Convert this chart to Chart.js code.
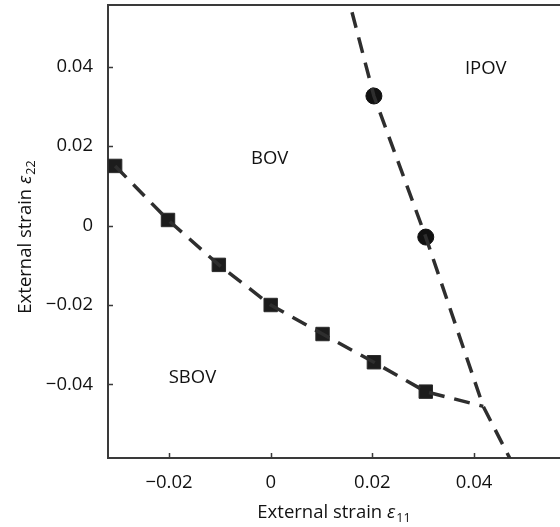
<!DOCTYPE html>
<html>
<head>
<meta charset="utf-8">
<script src="https://cdn.jsdelivr.net/npm/chart.js@4/dist/chart.umd.min.js"></script>
<style>
    html, body { margin: 0; padding: 0; background: #fff; }
    #wrap { width: 560px; height: 527px; position: relative; }
</style>
</head>
<body>
<div id="wrap"><canvas id="strainChart"></canvas></div>
<script>
// boundary between SBOV and BOV (square markers)
const sbovX = [-0.0306, -0.0202, -0.0102, 0.0, 0.0102, 0.0203, 0.0305];
const sbovY = [0.0150, 0.0014, -0.0099, -0.0200, -0.0273, -0.0344, -0.0418];

// boundary between BOV and IPOV (circle markers)
const ipovX = [0.0203, 0.0305];
const ipovY = [0.0326, -0.0029];

// where the two dashed boundaries meet, and where the steep one runs off the plot
const junction = { x: 0.0418, y: -0.0455 };
const steepTop = { x: 0.0147, y: 0.0600 };
const steepBottom = { x: 0.0484, y: -0.0620 };

const xTicks = [-0.02, 0, 0.02, 0.04];
const yTicks = [-0.04, -0.02, 0, 0.02, 0.04];

const regionNames = ['BOV', 'IPOV', 'SBOV'];
const regionAt = [[-0.0002, 0.0169], [0.0423, 0.0394], [-0.0154, -0.0383]];

const axisColor = '#3a3a3a';
const inkColor = '#121212';
const lineColor = '#2e2e2e';
const fontFamily = '"Open Sans", "Noto Sans", sans-serif';
const fontSize = 18.5;

function fmtTick(v) {
    if (Math.abs(v) < 1e-9) return '0';
    const s = Math.abs(v).toFixed(2);
    return v < 0 ? '\u2212' + s : s;
}

const toPoints = (xs, ys) => xs.map((x, i) => ({ x, y: ys[i] }));
const sbovPts = toPoints(sbovX, sbovY);
const ipovPts = toPoints(ipovX, ipovY);

// no extra room around the plot box: the axes sit right on the chart area edges
function fixBox(s, size) {
    if (s.isHorizontal()) s.height = size; else s.width = size;
    s.paddingTop = s.paddingBottom = s.paddingLeft = s.paddingRight = 0;
}

// draws "External strain ε" with an italic epsilon and a subscript
function drawStrainTitle(ctx, sub, cx, cy, angle) {
    const main = 'External strain ';
    const fMain = `${fontSize}px ${fontFamily}`;
    const fEps = `italic ${fontSize}px ${fontFamily}`;
    const fSub = `${fontSize * 0.68}px ${fontFamily}`;
    ctx.save();
    ctx.translate(cx, cy);
    ctx.rotate(angle);
    ctx.font = fMain; const w1 = ctx.measureText(main).width;
    ctx.font = fEps; const w2 = ctx.measureText('\u03b5').width;
    ctx.font = fSub; const w3 = ctx.measureText(sub).width;
    let x = -(w1 + w2 + 1 + w3) / 2;
    ctx.fillStyle = inkColor;
    ctx.textBaseline = 'alphabetic';
    ctx.textAlign = 'left';
    ctx.font = fMain; ctx.fillText(main, x, 6); x += w1;
    ctx.font = fEps; ctx.fillText('\u03b5', x, 6); x += w2 + 1;
    ctx.font = fSub; ctx.fillText(sub, x, 10);
    ctx.restore();
}

const decor = {
    id: 'decor',
    afterDraw(chart) {
        const { ctx, chartArea: a, scales: { x, y } } = chart;
        ctx.save();
        // inward tick marks
        ctx.strokeStyle = axisColor;
        ctx.lineWidth = 1.5;
        ctx.beginPath();
        xTicks.forEach(v => {
            const px = Math.round(x.getPixelForValue(v)) + 0.5;
            ctx.moveTo(px, a.bottom);
            ctx.lineTo(px, a.bottom - 5);
        });
        yTicks.forEach(v => {
            const py = Math.round(y.getPixelForValue(v)) + 0.5;
            ctx.moveTo(a.left, py);
            ctx.lineTo(a.left + 5, py);
        });
        ctx.stroke();

        // region names
        ctx.fillStyle = inkColor;
        ctx.font = `${fontSize}px ${fontFamily}`;
        ctx.textAlign = 'center';
        ctx.textBaseline = 'middle';
        regionNames.forEach((name, i) => {
            ctx.fillText(name, x.getPixelForValue(regionAt[i][0]), y.getPixelForValue(regionAt[i][1]));
        });
        ctx.restore();

        drawStrainTitle(ctx, '11', (a.left + a.right) / 2, 512, 0);
        drawStrainTitle(ctx, '22', 25, 237, -Math.PI / 2);
    }
};

const ctx = document.getElementById('strainChart').getContext('2d');
new Chart(ctx, {
    type: 'scatter',
    data: {
        datasets: [
            {
                data: [...sbovPts, junction],
                showLine: true,
                borderColor: lineColor,
                borderWidth: 3.5,
                borderDash: [16, 10],
                pointRadius: 0,
                clip: 0
            },
            {
                data: [steepTop, ...ipovPts, junction, steepBottom],
                showLine: true,
                borderColor: lineColor,
                borderWidth: 3.5,
                borderDash: [16, 10],
                pointRadius: 0,
                clip: 0
            },
            {
                data: sbovPts,
                pointStyle: 'rect',
                pointRadius: 9.5,
                backgroundColor: '#1c1c1c',
                borderColor: '#2a2a2a',
                borderWidth: 1
            },
            {
                data: ipovPts,
                pointStyle: 'circle',
                pointRadius: 8,
                backgroundColor: '#111',
                borderColor: '#111',
                borderWidth: 1
            }
        ]
    },
    options: {
        responsive: true,
        maintainAspectRatio: false,
        animation: false,
        layout: { padding: 0, autoPadding: false },
        plugins: {
            legend: { display: false },
            tooltip: { enabled: false }
        },
        scales: {
            x: {
                type: 'linear',
                position: 'bottom',
                min: -0.032,
                max: 0.0569,
                afterBuildTicks: s => { s.ticks = xTicks.map(v => ({ value: v })); },
                afterFit: s => fixBox(s, 69),
                grid: { drawOnChartArea: false, drawTicks: false },
                border: { display: true, color: axisColor, width: 2 },
                ticks: {
                    color: inkColor,
                    padding: 14,
                    maxRotation: 0,
                    font: { family: fontFamily, size: fontSize },
                    callback: fmtTick
                }
            },
            xTop: {
                type: 'linear',
                axis: 'x',
                position: 'top',
                min: -0.032,
                max: 0.0569,
                afterFit: s => fixBox(s, 5),
                grid: { drawOnChartArea: false, drawTicks: false },
                border: { display: true, color: axisColor, width: 2 },
                ticks: { display: false }
            },
            y: {
                type: 'linear',
                min: -0.0585,
                max: 0.0555,
                afterBuildTicks: s => { s.ticks = yTicks.map(v => ({ value: v })); },
                afterFit: s => fixBox(s, 108),
                grid: { drawOnChartArea: false, drawTicks: false },
                border: { display: true, color: axisColor, width: 2 },
                ticks: {
                    color: inkColor,
                    padding: 15,
                    font: { family: fontFamily, size: fontSize },
                    callback: fmtTick
                }
            }
        }
    },
    plugins: [decor]
});
</script>
</body>
</html>
